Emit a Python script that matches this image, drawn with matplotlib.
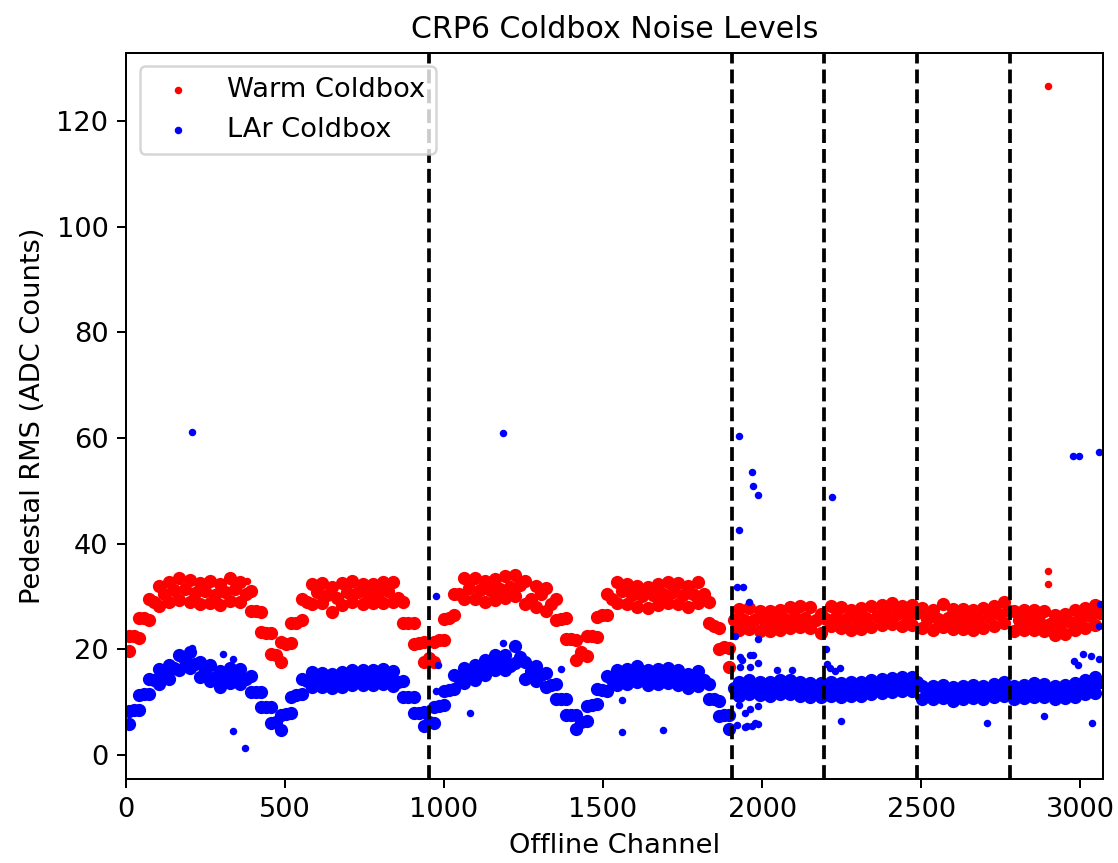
import matplotlib
matplotlib.use("Agg")
import matplotlib.pyplot as plt
import numpy as np

# band: upper / lower edge at channels 8+32k, middle at 24+32k
chan_edge = np.arange(8, 3072, 32)
chan_mid = np.arange(24, 3072, 32)

warm_hi = [22.6, 26.0, 29.6, 32.0, 32.8, 33.4, 33.2, 32.5, 33.0, 32.3, 33.5, 32.8,
           31.0, 27.0, 23.0, 21.4, 25.0, 29.6, 32.4, 32.6, 31.8, 32.6, 33.0, 32.4,
           32.4, 32.8, 32.7, 29.0, 25.0, 21.3, 21.4, 25.8, 30.4, 33.4, 33.4, 33.0,
           33.3, 33.8, 34.0, 33.0, 32.0, 31.6, 29.5, 26.0, 21.8, 22.6, 26.2, 30.4,
           32.8, 32.4, 32.0, 31.8, 32.3, 32.8, 32.5, 32.0, 32.8, 29.0, 24.0, 20.3,
           27.6, 27.8, 27.3, 27.2, 27.5, 28.0, 28.2, 28.0, 26.6, 28.2, 28.0, 27.5,
           27.8, 28.1, 28.4, 28.8, 28.2, 28.4, 27.9, 27.4, 28.6, 27.7, 27.7, 27.5,
           27.9, 28.2, 29.0, 27.3, 27.5, 27.4, 27.2, 26.5, 26.7, 27.4, 27.9, 28.4]
warm_lo = [19.6, 22.2, 25.6, 28.2, 29.0, 29.4, 29.0, 28.6, 28.8, 28.4, 29.2, 29.0,
           27.2, 23.2, 19.2, 17.6, 21.2, 25.6, 28.6, 28.7, 27.0, 28.4, 29.0, 28.6,
           28.7, 28.8, 28.9, 25.0, 21.0, 17.6, 17.6, 21.8, 26.5, 29.6, 29.5, 29.0,
           29.3, 29.8, 30.0, 28.6, 28.0, 27.2, 25.5, 22.0, 18.0, 18.8, 22.4, 26.4,
           28.8, 28.5, 28.0, 27.8, 28.3, 28.8, 28.5, 28.0, 28.8, 25.0, 20.0, 16.7,
           23.6, 23.8, 23.4, 23.4, 23.7, 24.0, 24.2, 24.0, 23.0, 24.4, 24.0, 23.7,
           23.8, 24.3, 24.6, 24.8, 24.4, 24.6, 24.1, 23.6, 24.2, 23.9, 23.9, 23.7,
           24.1, 24.4, 25.0, 23.5, 23.7, 23.6, 23.4, 22.7, 22.9, 23.6, 24.1, 24.6]
warm_mid = [22.5, 26.0, 29.0, 30.5, 31.2, 31.5, 30.6, 31.0, 30.3, 30.8, 31.5, 30.5,
            27.2, 23.0, 19.0, 21.0, 25.0, 29.0, 30.8, 30.2, 29.8, 30.8, 30.8, 30.5,
            30.6, 31.0, 29.8, 25.0, 21.2, 18.3, 21.8, 26.0, 30.5, 31.6, 31.3, 31.2,
            31.5, 31.8, 32.2, 29.5, 30.5, 28.5, 25.8, 22.0, 19.5, 22.5, 26.5, 29.5,
            31.0, 30.3, 30.0, 30.2, 30.5, 30.8, 30.3, 30.5, 30.5, 24.5, 20.5, 25.5,
            25.6, 25.5, 25.4, 25.4, 25.8, 26.2, 26.0, 25.5, 25.8, 26.2, 25.8, 25.7,
            26.0, 26.3, 26.6, 26.6, 26.3, 26.8, 25.8, 25.8, 26.0, 25.8, 25.7, 25.8,
            26.2, 26.6, 27.2, 25.5, 25.6, 25.4, 24.8, 24.7, 25.2, 25.7, 26.3, 26.8]

lar_hi = [8.4, 11.4, 14.4, 16.2, 17.1, 19.0, 19.5, 17.6, 17.0, 15.8, 16.4, 16.2,
          15.0, 12.0, 9.0, 7.6, 11.0, 14.4, 15.7, 15.6, 15.4, 15.7, 16.0, 16.0,
          16.0, 16.2, 15.8, 14.0, 11.0, 8.2, 9.0, 12.2, 15.2, 16.4, 17.0, 17.9,
          18.9, 18.9, 20.6, 17.6, 16.8, 15.6, 13.5, 10.5, 7.6, 9.2, 12.4, 14.9,
          16.0, 16.2, 16.8, 16.0, 16.2, 16.4, 16.1, 15.4, 15.8, 13.4, 10.2, 7.5,
          13.8, 14.1, 13.9, 13.8, 14.1, 14.1, 13.8, 13.6, 13.6, 13.8, 13.6, 13.8,
          13.8, 14.1, 14.3, 14.5, 14.7, 14.8, 13.1, 13.1, 13.3, 12.9, 13.1, 13.3,
          13.1, 13.5, 13.8, 13.1, 13.3, 13.6, 13.5, 13.1, 13.3, 13.6, 14.1, 14.8]
lar_lo = [5.8, 8.6, 11.6, 13.4, 14.3, 16.0, 16.5, 14.8, 14.0, 12.8, 13.6, 13.4,
          12.0, 9.0, 6.0, 4.8, 8.0, 11.6, 12.9, 12.8, 12.6, 12.9, 13.2, 13.2,
          13.2, 13.4, 13.0, 11.0, 8.0, 5.4, 6.0, 9.4, 12.4, 13.6, 14.2, 15.1,
          16.1, 16.1, 17.4, 14.4, 14.0, 12.8, 10.5, 7.5, 5.0, 6.4, 9.6, 12.1,
          13.2, 13.4, 13.8, 13.2, 13.4, 13.6, 13.3, 12.6, 13.0, 10.6, 7.4, 4.9,
          11.2, 11.5, 11.3, 11.2, 11.5, 11.5, 11.2, 11.0, 11.0, 11.2, 11.0, 11.2,
          11.2, 11.5, 11.7, 11.9, 12.1, 12.2, 10.5, 10.5, 10.7, 10.3, 10.5, 10.7,
          10.5, 10.9, 11.2, 10.5, 10.7, 11.0, 10.9, 10.5, 10.7, 11.0, 11.5, 11.8]
lar_mid = [8.5, 11.6, 14.2, 15.2, 16.5, 18.0, 17.2, 16.0, 14.8, 14.8, 15.0, 14.4,
           12.0, 9.0, 6.2, 7.8, 11.3, 14.0, 14.4, 14.1, 14.1, 14.5, 14.6, 14.7,
           14.7, 14.6, 13.8, 11.0, 8.0, 6.3, 9.2, 12.3, 14.5, 15.3, 16.0, 17.0,
           18.0, 16.8, 18.5, 15.8, 15.2, 13.2, 10.5, 7.6, 6.2, 9.5, 12.3, 14.2,
           14.7, 15.0, 15.0, 14.7, 15.0, 14.8, 14.3, 14.2, 14.2, 10.5, 7.5, 12.6,
           12.6, 12.7, 12.5, 12.7, 12.8, 12.6, 12.4, 12.3, 12.6, 12.4, 12.4, 12.5,
           12.6, 12.9, 13.1, 13.3, 13.4, 13.8, 11.8, 11.9, 11.8, 11.7, 11.9, 11.9,
           12.0, 12.3, 12.6, 11.9, 12.2, 12.2, 12.0, 11.9, 12.1, 12.5, 13.0, 13.8]

# isolated points
warm_out_ch = [379, 2898, 2898, 2898]
warm_out_val = [33.0, 126.6, 34.8, 32.3]
lar_out_ch = [208, 207, 306, 337, 335, 374,
              975, 982, 974, 1082, 1185, 1186,
              1367, 1559, 1559, 1688,
              1928, 1967, 1973, 1988, 1928, 1920, 1939, 1959, 1915, 1988,
              1930, 1936, 1962, 1972, 1932, 1962, 1988, 2046, 2093,
              1926, 1946, 1962, 1988, 1920, 1946, 1967, 1986, 1954, 1978,
              2201, 2203, 2215, 2230, 2245, 2219, 2248,
              2706, 2885, 3037, 2981, 2994, 3010, 3034, 3059, 3063, 3060,
              2979, 2995, 3058]
lar_out_val = [61.1, 20.2, 19.2, 18.1, 4.6, 1.3,
               30.1, 17.0, 12.1, 8.0, 21.1, 60.9,
               16.3, 10.4, 4.3, 4.7,
               60.3, 53.5, 50.9, 49.2, 42.5, 31.7, 31.7, 29.0, 22.5, 22.0,
               18.5, 18.0, 19.0, 19.0, 16.7, 16.6, 17.4, 16.0, 16.1,
               9.5, 7.9, 8.7, 9.2, 5.6, 5.3, 5.5, 5.9, 5.4, 6.0,
               20.0, 17.2, 16.5, 15.8, 16.4, 48.8, 6.5,
               6.1, 7.3, 6.1, 17.7, 17.0, 19.2, 18.7, 18.2, 28.5, 24.4,
               56.6, 56.6, 57.4]

module_edges = [952, 1904, 2196, 2488, 2780]

plt.rcParams["font.size"] = 10.9

fig = plt.figure(figsize=(1118 / 180, 863 / 180), dpi=180)
ax = fig.add_axes([0.1127, 0.097, 0.8739, 0.8419])

band_x = np.concatenate([chan_edge, chan_edge, chan_mid])
warm_band = np.concatenate([warm_hi, warm_lo, warm_mid])
lar_band = np.concatenate([lar_hi, lar_lo, lar_mid])

# the band is sampled coarsely, so its dots are drawn bigger to make a continuous strip
ax.scatter(band_x, warm_band, s=28, c="red", linewidths=0)
ax.scatter(warm_out_ch, warm_out_val, s=9, c="red", linewidths=0, label="Warm Coldbox")
ax.scatter(band_x, lar_band, s=28, c="blue", linewidths=0)
ax.scatter(lar_out_ch, lar_out_val, s=9, c="blue", linewidths=0, label="LAr Coldbox")

for ch in module_edges:
    ax.axvline(ch, color="k", linestyle="--", linewidth=1.5)

ax.set_xlim(0, 3072)
ax.set_ylim(-4.6, 132.9)
ax.set_title("CRP6 Coldbox Noise Levels", fontsize=12)
ax.set_xlabel("Offline Channel")
ax.set_ylabel("Pedestal RMS (ADC Counts)")
ax.legend(loc="upper left")

fig.savefig("out.png", dpi=180)
